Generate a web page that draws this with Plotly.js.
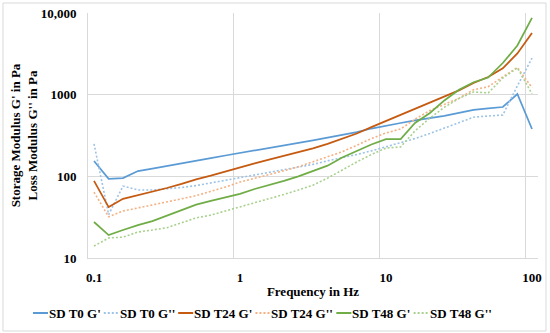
<!DOCTYPE html>
<html>
<head>
<meta charset="utf-8">
<script src="https://cdn.plot.ly/plotly-3.0.1.min.js"></script>
<style>html,body{margin:0;padding:0;background:#fff}#chart{width:550px;height:333px}</style>
</head>
<body>
<div id="chart"></div>
<script>
// ---- data ----
const freqHz = [0.1, 0.126, 0.158, 0.2, 0.251, 0.316, 0.398, 0.501, 0.631, 0.794,
                1, 1.26, 1.58, 2, 2.51, 3.16, 3.98, 5.01, 6.31, 7.94,
                10, 12.6, 15.8, 20, 25.1, 31.6, 39.8, 50.1, 63.1, 79.4, 100];

const t0Storage  = [154, 93, 95, 116, 124, 133, 143, 155, 167, 180,
                    193, 206, 220, 236, 255, 276, 297, 321, 348, 385,
                    420, 450, 485, 518, 550, 600, 650, 680, 706, 1019, 380];
const t0Loss     = [250, 34, 76, 68, 68, 70, 73, 77, 83, 89,
                    96, 104, 112, 121, 130, 140, 155, 168, 185, 205,
                    230, 255, 290, 335, 390, 460, 530, 548, 563, 1280, 2800];
const t24Storage = [88, 42, 53, 59, 64, 72, 81, 92, 102, 115,
                    130, 144, 160, 177, 196, 220, 250, 290, 335, 400,
                    475, 560, 670, 800, 950, 1130, 1390, 1646, 2100, 3200, 5700];
const t24Loss    = [64, 32, 37.6, 41, 44, 48, 53, 58, 65, 74,
                    85, 94, 104, 117, 131, 150, 175, 200, 240, 290,
                    340, 380, 500, 640, 760, 900, 1150, 1250, 1650, 2150, 1220];
const t48Storage = [27.6, 19.1, 22, 25.3, 28.3, 32.8, 38.5, 45, 50, 55,
                    61, 70, 78, 88, 100, 116, 135, 170, 205, 245,
                    286, 286, 450, 596, 850, 1150, 1420, 1620, 2440, 4000, 8700];
const t48Loss    = [14, 17.6, 18, 20.8, 22, 23.5, 27, 31, 33.5, 37.5,
                    42, 47, 53, 60, 68, 78, 95, 120, 150, 185,
                    222, 229, 360, 518, 700, 900, 1080, 1050, 1600, 2130, 1020];

const seriesNames = ["SD T0 G'", "SD T0 G''", "SD T24 G'", "SD T24 G''", "SD T48 G'", "SD T48 G''"];
const xTickVals = [0.1, 1, 10, 100];
const xTickText = ["0.1", "1", "10", "100"];
const yTickVals = [10, 100, 1000, 10000];
const yTickText = ["10", "100", "1000", "10,000"];

// ---- styles ----
const seriesValues = [t0Storage, t0Loss, t24Storage, t24Loss, t48Storage, t48Loss];
const colors = ['#5B9BD5', '#9DC3E6', '#C55A11', '#F4B183', '#70AD47', '#A9D18E'];
const dashes = ['solid', '2px,2px', 'solid', '2px,2px', 'solid', '2px,2px'];
const widths = [1.75, 1.6, 1.75, 1.6, 1.75, 1.6];

const FONT = {family: '"Liberation Serif", "Times New Roman", serif', size: 13, color: '#000', weight: 'bold'};

const W = 550, H = 333;
const M = {l: 88, r: 12, t: 13, b: 75};
const PW = W - M.l - M.r, PH = H - M.t - M.b;
const px2x = p => (p - M.l) / PW;
const py2y = p => (H - M.b - p) / PH;

const traces = seriesValues.map((vals, k) => ({
  type: 'scatter', mode: 'lines', name: seriesNames[k],
  x: freqHz, y: vals,
  line: {color: colors[k], width: widths[k], dash: dashes[k]},
  showlegend: false, hoverinfo: 'x+y+name'
}));
// empty trace so that the grid-only overlay axis is drawn
traces.unshift({type: 'scatter', mode: 'lines', x: [], y: [], xaxis: 'x2', yaxis: 'y', showlegend: false, hoverinfo: 'skip'});

// ---- custom legend (Excel style, one row) ----
const LEG_START = 33, LEG_Y = 313, SAMPLE = 15, TEXT_GAP = 1, ITEM_GAP = 3;
function buildLegend(textWidths) {
  const shapes = [], annotations = [];
  let lx = LEG_START;
  const ly = py2y(LEG_Y);
  seriesNames.forEach((n, k) => {
    shapes.push({type: 'line', xref: 'paper', yref: 'paper', x0: px2x(lx), x1: px2x(lx + SAMPLE), y0: ly, y1: ly,
                 line: {color: colors[k], width: widths[k] + 0.25, dash: dashes[k]}});
    annotations.push({xref: 'paper', yref: 'paper', x: px2x(lx + SAMPLE + TEXT_GAP - 1), y: ly,
                      xanchor: 'left', yanchor: 'middle',
                      text: n, showarrow: false, borderpad: 0, font: FONT});
    lx += SAMPLE + TEXT_GAP + textWidths[k] + ITEM_GAP;
  });
  // chart border
  shapes.push({type: 'rect', xref: 'paper', yref: 'paper', layer: 'below',
               x0: px2x(3), x1: px2x(546), y0: py2y(331), y1: py2y(3),
               line: {color: '#d9d9d9', width: 1}, fillcolor: 'rgba(0,0,0,0)'});
  return {shapes, annotations};
}
const ctx = document.createElement('canvas').getContext('2d');
ctx.font = 'bold 13px "Liberation Serif"';
const leg0 = buildLegend(seriesNames.map(n => ctx.measureText(n).width));

const layout = {
  width: W, height: H, margin: M,
  paper_bgcolor: '#fff', plot_bgcolor: '#fff',
  font: FONT,
  showlegend: false,
  xaxis: {
    type: 'log', range: [-1.0411, 2.0411], tickvals: xTickVals, ticktext: xTickText,
    showgrid: false, zeroline: false, showline: true, linecolor: '#d9d9d9', linewidth: 1,
    ticks: '', tickfont: FONT, ticklabelstandoff: 7,
    title: {text: 'Frequency in Hz', font: FONT, standoff: 3}
  },
  xaxis2: {
    type: 'log', overlaying: 'x', anchor: 'y', side: 'bottom', range: [-0.99315, 2.089],
    tickvals: [1, 10, 100], showticklabels: false, ticks: '',
    showgrid: true, gridcolor: '#d9d9d9', gridwidth: 1, zeroline: false, showline: false
  },
  yaxis: {
    type: 'log', range: [1, 4], tickvals: yTickVals, ticktext: yTickText,
    showgrid: true, gridcolor: '#d9d9d9', gridwidth: 1, zeroline: false,
    showline: true, linecolor: '#d9d9d9', linewidth: 1,
    ticks: '', tickfont: FONT, ticklabelstandoff: 8,
    title: {text: "Storage Modulus G' in Pa<br>Loss Modulus G'' in Pa", font: FONT, standoff: 0}
  },
  shapes: leg0.shapes,
  annotations: leg0.annotations
};

Plotly.newPlot('chart', traces, layout, {displayModeBar: false, staticPlot: true}).then(gd => {
  // re-space the legend using the real rendered text widths
  const els = gd.querySelectorAll('.annotation-text');
  if (els.length === seriesNames.length) {
    const tw = Array.from(els).map(e => e.getBBox().width);
    const leg = buildLegend(tw);
    return Plotly.relayout(gd, {shapes: leg.shapes, annotations: leg.annotations});
  }
});
</script>
</body>
</html>
